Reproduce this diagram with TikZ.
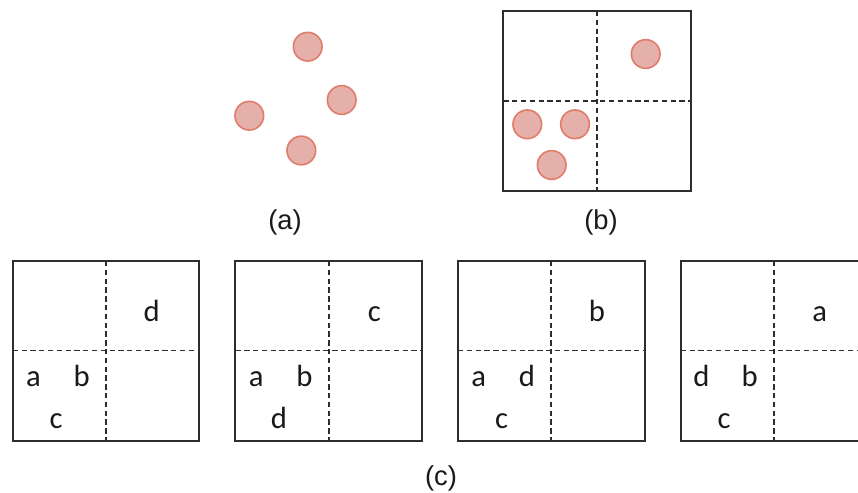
\documentclass[tikz,border=0pt]{standalone}
\usepackage{fontspec}
\setmainfont{Liberation Sans}
\newfontfamily\calfont{Carlito}
\definecolor{dotfill}{RGB}{230,176,170}
\definecolor{dotline}{RGB}{224,124,106}
\definecolor{boxline}{RGB}{45,45,45}
\begin{document}
\begin{tikzpicture}[x=0.75pt,y=-0.75pt,
  dot/.style={circle,fill=dotfill,draw=dotline,line width=1.2pt,minimum size=21.5pt,inner sep=0pt},
  frame/.style={draw=boxline,line width=1.5pt},
  divider/.style={draw=boxline,line width=1.3pt,dash pattern=on 4pt off 2.6pt},
  letter/.style={font=\calfont\fontsize{23}{26}\selectfont,anchor=base,inner sep=0pt,text=black!90},
  caption/.style={font=\fontsize{20.5}{24}\selectfont,anchor=base,inner sep=0pt,text=black!90}]
\useasboundingbox (0,0) rectangle (858,493);
\clip (0,0) rectangle (858,493);
% (a)
\node[dot] (a1) at (307.7,46.7) {};
\node[dot] (a2) at (249.3,115.7) {};
\node[dot] (a3) at (341.7,100) {};
\node[dot] (a4) at (301.3,150.5) {};
\node[caption] (la) at (285,229.5) {(a)};
% (b)
\draw[frame] (503.3,11) rectangle (690.7,190.7);
\draw[divider] (597,11) -- (597,190.7);
\draw[divider] (503.3,100.8) -- (690.7,100.8);
\node[dot] (b1) at (645.7,54) {};
\node[dot] (b2) at (527.3,124.3) {};
\node[dot] (b3) at (575,124.3) {};
\node[dot] (b4) at (551.7,165) {};
\node[caption] (lb) at (601,229.5) {(b)};
% (c)
\foreach \i/\ur/\ml/\mr/\bl in {0/d/a/b/c, 1/c/a/b/d, 2/b/a/d/c, 3/a/d/b/c}{
  \begin{scope}[shift={(12.7+222.67*\i,261)}]
    \draw[frame] (0,0) rectangle (186.6,179.7);
    \draw[divider] (93.3,0) -- (93.3,179.7);
    \draw[divider] (0,89.5) -- (186.6,89.5);
    \node[letter] (ur\i) at (139,60.7) {\ur};
    \node[letter] (ml\i) at (20.8,125.7) {\ml};
    \node[letter] (mr\i) at (69,125.7) {\mr};
    \node[letter] (bl\i) at (43.5,167.3) {\bl};
  \end{scope}
}
\node[caption] (lc) at (441,485.5) {(c)};
\end{tikzpicture}
\end{document}
